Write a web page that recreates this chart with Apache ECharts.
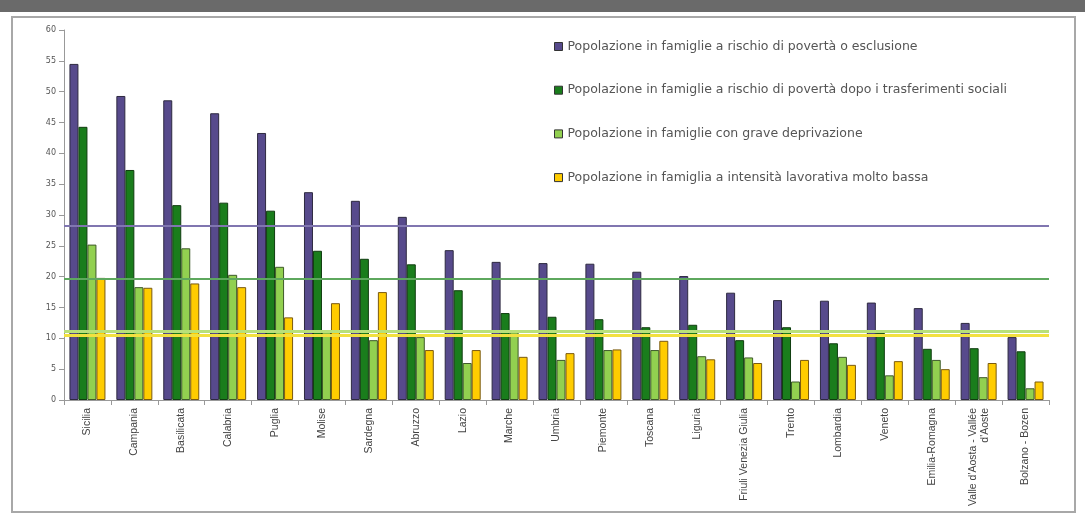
<!DOCTYPE html>
<html><head><meta charset="utf-8">
<script src="https://cdn.jsdelivr.net/npm/echarts@6/dist/echarts.min.js"></script>
<style>html,body{margin:0;padding:0;background:#fff}#c{width:1085px;height:515px}</style>
</head><body><div id="c"></div>
<script>
const categories = ["Sicilia","Campania","Basilicata","Calabria","Puglia","Molise","Sardegna","Abruzzo","Lazio","Marche","Umbria","Piemonte","Toscana","Liguria","Friuli Venezia Giulia","Trento","Lombardia","Veneto","Emilia-Romagna","Valle d'Aosta - Vallée\nd'Aoste","Bolzano - Bozen"];
const seriesNames = ["Popolazione in famiglie a rischio di povertà o esclusione","Popolazione in famiglie a rischio di povertà dopo i trasferimenti sociali","Popolazione in famiglie con grave deprivazione","Popolazione in famiglia a intensità lavorativa molto bassa"];
const rischioEsclusione = [54.5,49.3,48.6,46.5,43.3,33.7,32.3,29.7,24.3,22.4,22.2,22.1,20.8,20.1,17.4,16.2,16.1,15.8,14.9,12.5,10.2];
const rischioPoverta = [44.3,37.3,31.6,32.0,30.7,24.2,22.9,22.0,17.8,14.1,13.5,13.1,11.8,12.2,9.7,11.8,9.2,10.9,8.3,8.4,7.9];
const graveDeprivazione = [25.2,18.3,24.6,20.3,21.6,11.0,9.7,10.2,6.0,11.0,6.5,8.1,8.1,7.1,6.9,3.0,7.0,4.0,6.5,3.7,1.9];
const bassaIntensita = [19.8,18.2,18.9,18.3,13.4,15.7,17.5,8.1,8.1,7.0,7.6,8.2,9.6,6.6,6.0,6.5,5.7,6.3,5.0,6.0,3.0];
const italiaMedia = [28.2,19.6,11.1,10.5];
const yTicks = [0,5,10,15,20,25,30,35,40,45,50,55,60];

const colors = ['#574a8c','#1a7d1c','#92d050','#ffcc00'];
const borders = ['#2e2a40','#103d10','#3e5a2a','#7a5a10'];
const lineColors = ['#8076b0','#5ea85e','#b8e07a','#f2e040'];
const vals = [rischioEsclusione, rischioPoverta, graveDeprivazione, bassaIntensita];

const chart = echarts.init(document.getElementById('c'));
chart.setOption({
  animation:false,
  textStyle:{fontFamily:'"Liberation Sans", Arial, sans-serif'},
  graphic:[
    {type:'rect', shape:{x:0,y:0,width:1085,height:12}, style:{fill:'#6a6a6a'}, z:-1},
    {type:'rect', shape:{x:12,y:17,width:1063,height:495}, style:{fill:'none',stroke:'#a8a8a8',lineWidth:2}, z:-1}
  ],
  legend:{
    orient:'vertical', left:549, top:35, itemGap:30.7,
    itemWidth:8, itemHeight:8, icon:'rect',
    itemStyle:{borderColor:'#333', borderWidth:1},
    textStyle:{fontSize:12.5, color:'#555', fontFamily:'"DejaVu Sans", sans-serif'},
    data:seriesNames
  },
  grid:{left:64, right:36, top:30, bottom:115},
  xAxis:{
    type:'category', data:categories,
    axisLine:{lineStyle:{color:'#999'}},
    axisTick:{show:true, interval:0, lineStyle:{color:'#999'}},
    axisLabel:{rotate:90, interval:0, fontSize:10.5, color:'#444', margin:8, lineHeight:12}
  },
  yAxis:{
    type:'value', min:0, max:60, interval:5,
    axisLine:{show:true, lineStyle:{color:'#999'}},
    axisTick:{show:true, lineStyle:{color:'#999'}},
    splitLine:{show:false},
    axisLabel:{fontSize:8, color:'#555', fontFamily:'"DejaVu Sans", sans-serif', formatter:v=>yTicks.includes(v)?String(v):''}
  },
  series: seriesNames.map((n,i)=>({
    name:n, type:'bar', data:vals[i], barWidth:9, barGap:'0%',
    itemStyle:{color:colors[i], borderColor:borders[i], borderWidth:1},
    markLine:{
      silent:true, symbol:'none', label:{show:false},
      lineStyle:{color:lineColors[i], width:i>=2?3:2, type:'solid'},
      data:[{yAxis:italiaMedia[i]}]
    }
  }))
});
</script></body></html>
